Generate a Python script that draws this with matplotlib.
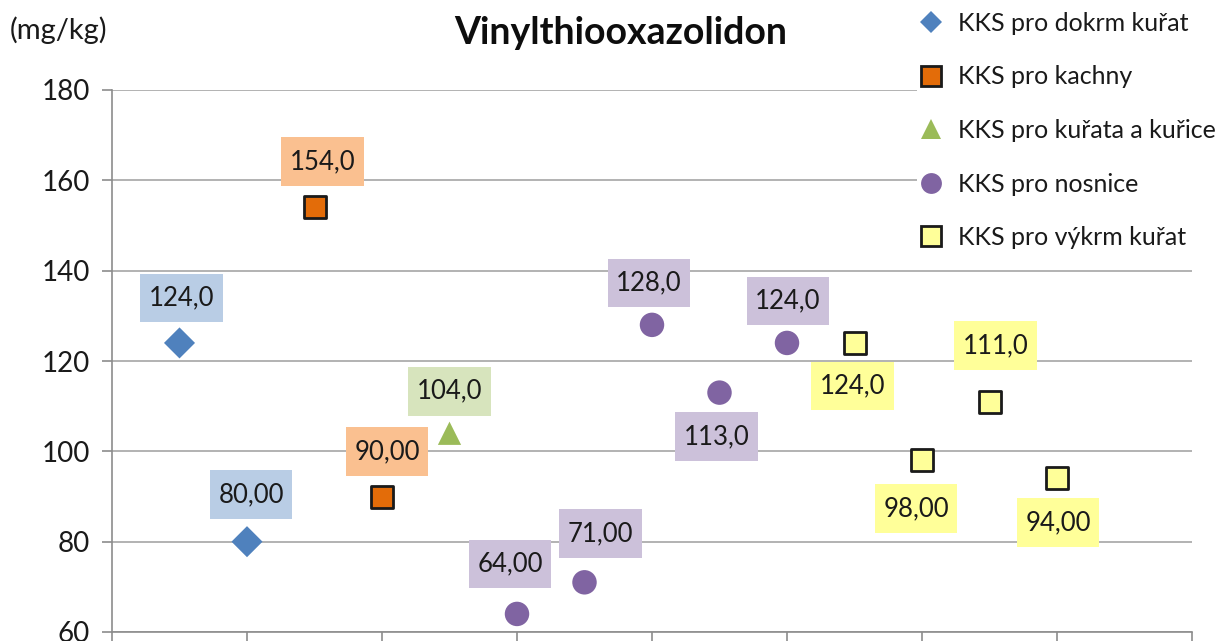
import matplotlib
matplotlib.use("Agg")
import matplotlib.pyplot as plt
from matplotlib.lines import Line2D
from matplotlib.path import Path

plt.rcParams['font.family'] = ['Lato', 'DejaVu Sans']

# ---- data ----
series_names = ["KKS pro dokrm kuřat", "KKS pro kachny", "KKS pro kuřata a kuřice",
                "KKS pro nosnice", "KKS pro výkrm kuřat"]
x_dokrm = [0.5, 1.0]
y_dokrm = [124, 80]
x_kachny = [1.5, 2.0]
y_kachny = [154, 90]
x_kurata = [2.5]
y_kurata = [104]
x_nosnice = [3.0, 3.5, 4.0, 4.5, 5.0]
y_nosnice = [64, 71, 128, 113, 124]
x_vykrm = [5.5, 6.0, 6.5, 7.0]
y_vykrm = [124, 98, 111, 94]
y_ticks = [60, 80, 100, 120, 140, 160, 180]

# label offsets from the marker, in pixels (dx, dy; dy>0 = above) -- layout only
off_dokrm = [(2, 45), (4, 47)]
off_kachny = [(8, 46), (5, 45)]
off_kurata = [(0, 42)]
off_nosnice = [(-7, 50), (16, 49), (-3, 42), (-3, -44), (1, 42)]
off_vykrm = [(-2, -43), (-6, -48), (6, 56), (1, -44)]


def fmt(v):
    s = str(int(round(v)))
    dec = max(4 - len(s), 1)
    return f"{v:.{dec}f}".replace('.', ',')


class PadBox:
    """Rectangle box with separate horizontal / vertical padding."""
    def __init__(self, px, py):
        self.px, self.py = px, py

    def __call__(self, x0, y0, width, height, mutation_size):
        padx = self.px * mutation_size
        pady = self.py * mutation_size
        x0, y0 = x0 - padx, y0 - pady
        x1, y1 = x0 + width + 2 * padx, y0 + height + 2 * pady
        return Path([(x0, y0), (x1, y0), (x1, y1), (x0, y1), (x0, y0)], closed=True)


W, H = 1227, 641
fig = plt.figure(figsize=(W / 100, H / 100), dpi=100)
ax = fig.add_axes([112 / W, (H - 632) / H, 1080 / W, 542 / H])
ax.set_xlim(0, 8)
ax.set_ylim(60, 180)
ax.set_yticks(y_ticks)
ax.set_xticks(range(0, 9))
ax.set_xticklabels([])
ax.yaxis.grid(True, color='#A6A6A6', linewidth=1.2)
ax.set_axisbelow(True)
for s in ['top', 'right']:
    ax.spines[s].set_visible(False)
for s in ['left', 'bottom']:
    ax.spines[s].set_color('#8C8C8C')
    ax.spines[s].set_linewidth(1.2)
ax.tick_params(axis='both', direction='out', length=7, width=1.2, color='#8C8C8C',
               labelsize=20, pad=9, labelcolor='#1A1A1A')
ax.tick_params(axis='x', length=9)

specs = [
    (x_dokrm, y_dokrm, off_dokrm, dict(marker='D', s=250, color='#4F81BD', edgecolors='none'), '#B9CDE5'),
    (x_kachny, y_kachny, off_kachny, dict(marker='s', s=260, color='#E36C09', edgecolors='#1A1A1A', linewidths=2), '#FAC090'),
    (x_kurata, y_kurata, off_kurata, dict(marker='^', s=280, color='#9BBB59', edgecolors='none'), '#D7E4BD'),
    (x_nosnice, y_nosnice, off_nosnice, dict(marker='o', s=310, color='#8064A2', edgecolors='none'), '#CCC1DA'),
    (x_vykrm, y_vykrm, off_vykrm, dict(marker='s', s=260, color='#FFFF99', edgecolors='#1A1A1A', linewidths=2), '#FFFF99'),
]
handles = []
for (xs, ys, offs, mk, lbg), name in zip(specs, series_names):
    ax.scatter(xs, ys, zorder=3, clip_on=False, **mk)
    for x, y, (dx, dy) in zip(xs, ys, offs):
        ax.annotate(fmt(y), (x, y), xytext=(dx, dy), textcoords='offset pixels',
                    ha='center', va='center', fontsize=18.5, color='#1A1A1A',
                    bbox=dict(boxstyle=PadBox(0.33, 0.46), fc=lbg, ec='none'), zorder=4)
    hk = dict(marker=mk['marker'], linestyle='none', markerfacecolor=mk['color'],
              markeredgecolor=mk.get('edgecolors', 'none'),
              markeredgewidth=mk.get('linewidths', 0), markersize=14)
    if mk['marker'] == 'D':
        hk['markersize'] = 11
    if mk['marker'] == 'o':
        hk['markersize'] = 15
    handles.append(Line2D([], [], **hk))

leg = fig.legend(handles, series_names, loc='upper left', bbox_to_anchor=(917 / W, 1.0),
                 frameon=True, fontsize=18, handlelength=0.2, handletextpad=0.95,
                 labelspacing=1.22, borderaxespad=0, borderpad=0.48)
leg.get_frame().set_edgecolor('none')
leg.get_frame().set_facecolor('white')
leg.get_frame().set_alpha(1)
leg.get_frame().set_boxstyle('square', pad=0)
leg.set_zorder(10)
for t in leg.get_texts():
    t.set_color('#1A1A1A')

fig.text(621 / W, 1 - 33 / H, "Vinylthiooxazolidon", ha='center', va='center',
         fontsize=27, fontweight='bold', color='#0D0D0D')
fig.text(10 / W, 1 - 30 / H, "(mg/kg)", ha='left', va='center', fontsize=21, color='#1A1A1A')

fig.savefig("out.png", dpi=100)
